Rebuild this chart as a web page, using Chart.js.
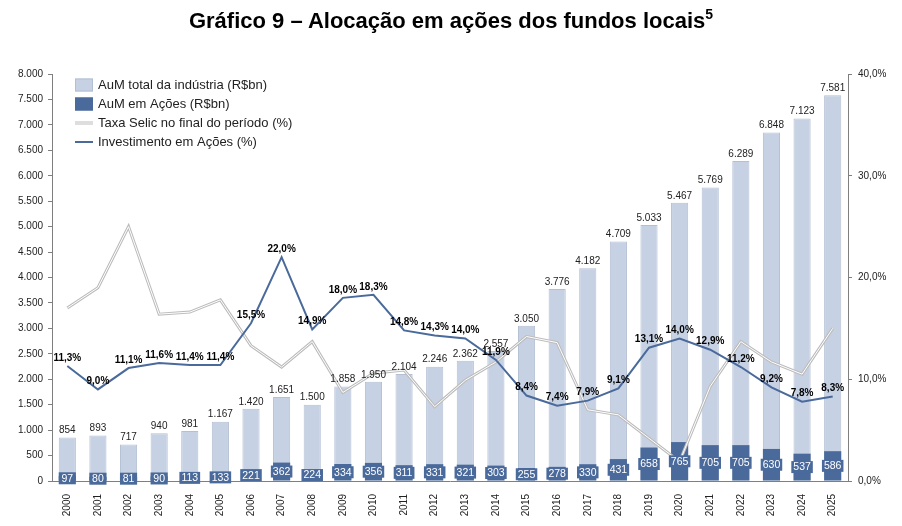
<!DOCTYPE html>
<html>
<head>
<meta charset="utf-8">
<script src="https://cdn.jsdelivr.net/npm/chart.js@4.4.1/dist/chart.umd.min.js"></script>
<style>
  html, body { margin: 0; padding: 0; background: #fff; }
  #wrap { position: relative; width: 902px; height: 526px; }
  #title { position: absolute; left: 0; top: 8px; width: 902px; text-align: center;
    font: bold 22px "Liberation Sans", Arial, sans-serif; line-height: 26px; color: #000; }
  #title sup { font-size: 14px; line-height: 0; vertical-align: 9px; }
  canvas { position: absolute; left: 0; top: 0; }
</style>
</head>
<body>
<div id="wrap">
  <canvas id="chart" width="902" height="526"></canvas>
  <div id="title">Gráfico 9 – Alocação em ações dos fundos locais<sup>5</sup></div>
</div>
<script>
// data
const years = ['2000','2001','2002','2003','2004','2005','2006','2007','2008','2009','2010','2011','2012',
  '2013','2014','2015','2016','2017','2018','2019','2020','2021','2022','2023','2024','2025'];
const aumTotal = [854, 893, 717, 940, 981, 1167, 1420, 1651, 1500, 1858, 1950, 2104, 2246,
  2362, 2557, 3050, 3776, 4182, 4709, 5033, 5467, 5769, 6289, 6848, 7123, 7581];
const aumAcoes = [97, 80, 81, 90, 113, 133, 221, 362, 224, 334, 356, 311, 331,
  321, 303, 255, 278, 330, 431, 658, 765, 705, 705, 630, 537, 586];
const selic = [17.0, 19.0, 25.0, 16.4, 16.6, 17.8, 13.3, 11.2, 13.7, 8.7, 10.6, 10.9, 7.3,
  9.9, 11.7, 14.2, 13.6, 7.0, 6.5, 4.2, 1.9, 9.3, 13.7, 11.7, 10.5, 15.0];
const investAcoes = [11.3, 9.0, 11.1, 11.6, 11.4, 11.4, 15.5, 22.0, 14.9, 18.0, 18.3, 14.8, 14.3,
  14.0, 11.9, 8.4, 7.4, 7.9, 9.1, 13.1, 14.0, 12.9, 11.2, 9.2, 7.8, 8.3];

const FONT = '"Liberation Sans", Arial, sans-serif';
const LIGHT = '#c6d1e3';
const DARK = '#4a6a9b';
const SELIC_GRAY = '#bcbcbc';

const fmtThousands = (n) => String(n).replace(/\B(?=(\d{3})+(?!\d))/g, '.');
const fmtPct = (v) => v.toFixed(1).replace('.', ',') + '%';

// white centre of the Selic line (double-line look)
const selicInner = {
  id: 'selicInner',
  afterDatasetDraw(chart, args) {
    if (args.index !== 2) return;
    const pts = args.meta.data;
    const ctx = chart.ctx;
    ctx.save();
    ctx.strokeStyle = '#ffffff';
    ctx.lineWidth = 1;
    ctx.beginPath();
    pts.forEach((p, i) => i ? ctx.lineTo(p.x, p.y) : ctx.moveTo(p.x, p.y));
    ctx.stroke();
    ctx.restore();
  }
};

const valueLabels = {
  id: 'valueLabels',
  afterDatasetsDraw(chart) {
    const ctx = chart.ctx;
    ctx.save();
    ctx.textAlign = 'center';

    // totals above bars
    ctx.font = '10px ' + FONT;
    ctx.fillStyle = '#222';
    ctx.textBaseline = 'bottom';
    chart.getDatasetMeta(0).data.forEach((el, i) => {
      ctx.fillText(fmtThousands(aumTotal[i]), el.x, el.y - 2);
    });

    // equity AuM inside bars
    ctx.font = '10.5px ' + FONT;
    ctx.textBaseline = 'middle';
    chart.getDatasetMeta(1).data.forEach((el, i) => {
      const txt = String(aumAcoes[i]);
      const cy = (el.y + el.base) / 2;
      const w = Math.max(el.width, ctx.measureText(txt).width + 4);
      ctx.fillStyle = DARK;
      ctx.fillRect(el.x - w / 2, cy - 6, w, 12);
      ctx.fillStyle = '#fff';
      ctx.fillText(txt, el.x, cy + 0.5);
    });

    // equity share labels
    ctx.font = 'bold 10px ' + FONT;
    ctx.fillStyle = '#000';
    ctx.textBaseline = 'bottom';
    chart.getDatasetMeta(3).data.forEach((el, i) => {
      ctx.fillText(fmtPct(investAcoes[i]), el.x, el.y - 3);
    });
    ctx.restore();
  }
};

// legend drawn inside the plot, one item per row
const innerLegend = {
  id: 'innerLegend',
  afterDraw(chart) {
    const ctx = chart.ctx;
    const x0 = 75, y0 = 85, step = 19;
    const items = [
      { type: 'box', color: LIGHT, border: '#b3bfd3', text: 'AuM total da indústria (R$bn)' },
      { type: 'box', color: DARK, border: DARK, text: 'AuM em Ações (R$bn)' },
      { type: 'selic', text: 'Taxa Selic no final do período (%)' },
      { type: 'line', color: DARK, text: 'Investimento em Ações (%)' }
    ];
    ctx.save();
    ctx.font = '13px ' + FONT;
    ctx.textBaseline = 'middle';
    ctx.textAlign = 'left';
    items.forEach((it, i) => {
      const y = y0 + i * step;
      if (it.type === 'box') {
        ctx.fillStyle = it.color;
        ctx.fillRect(x0, y - 6.5, 18, 13);
        ctx.strokeStyle = it.border;
        ctx.lineWidth = 1;
        ctx.strokeRect(x0 + 0.5, y - 6, 17, 12);
      } else if (it.type === 'selic') {
        ctx.strokeStyle = SELIC_GRAY;
        ctx.lineWidth = 3;
        ctx.beginPath(); ctx.moveTo(x0, y); ctx.lineTo(x0 + 18, y); ctx.stroke();
        ctx.strokeStyle = '#fff';
        ctx.lineWidth = 1;
        ctx.beginPath(); ctx.moveTo(x0, y); ctx.lineTo(x0 + 18, y); ctx.stroke();
      } else {
        ctx.strokeStyle = it.color;
        ctx.lineWidth = 2;
        ctx.beginPath(); ctx.moveTo(x0, y); ctx.lineTo(x0 + 18, y); ctx.stroke();
      }
      ctx.fillStyle = '#222';
      ctx.fillText(it.text, x0 + 23, y + 0.5);
    });
    ctx.restore();
  }
};

const axisColor = '#7f7f7f';
const tickFont = { family: FONT, size: 10 };

new Chart(document.getElementById('chart').getContext('2d'), {
  type: 'bar',
  data: {
    labels: years,
    datasets: [
      {
        label: 'AuM total da indústria (R$bn)',
        data: aumTotal,
        backgroundColor: LIGHT,
        borderColor: '#b3bfd3',
        borderWidth: 1,
        grouped: false,
        categoryPercentage: 1,
        barPercentage: 0.56,
        yAxisID: 'y',
        order: 3
      },
      {
        label: 'AuM em Ações (R$bn)',
        data: aumAcoes,
        backgroundColor: DARK,
        borderWidth: 0,
        grouped: false,
        categoryPercentage: 1,
        barPercentage: 0.56,
        yAxisID: 'y',
        order: 2
      },
      {
        type: 'line',
        label: 'Taxa Selic no final do período (%)',
        data: selic,
        borderColor: SELIC_GRAY,
        borderWidth: 3,
        pointRadius: 0,
        tension: 0,
        fill: false,
        yAxisID: 'y1',
        order: 1
      },
      {
        type: 'line',
        label: 'Investimento em Ações (%)',
        data: investAcoes,
        borderColor: DARK,
        borderWidth: 2,
        pointRadius: 0,
        tension: 0,
        fill: false,
        yAxisID: 'y1',
        order: 0
      }
    ]
  },
  options: {
    responsive: false,
    animation: false,
    layout: { padding: { top: 74, left: 0, right: 0, bottom: 0 } },
    plugins: {
      legend: { display: false },
      title: { display: false },
      tooltip: { enabled: false }
    },
    scales: {
      x: {
        grid: { display: false },
        border: { color: axisColor, width: 1 },
        ticks: { font: tickFont, color: '#222', minRotation: 90, maxRotation: 90, autoSkip: false, padding: 5 },
        afterFit: (s) => { s.height = 45; }
      },
      y: {
        position: 'left',
        min: 0, max: 8000,
        grid: { drawOnChartArea: false, tickLength: 4, color: axisColor },
        border: { color: axisColor, width: 1 },
        ticks: { stepSize: 500, font: tickFont, color: '#222', padding: 5, callback: (v) => fmtThousands(v) },
        afterFit: (s) => { s.width = 52; }
      },
      y1: {
        position: 'right',
        min: 0, max: 40,
        grid: { drawOnChartArea: false, tickLength: 4, color: axisColor },
        border: { color: axisColor, width: 1 },
        ticks: { stepSize: 10, font: tickFont, color: '#222', padding: 6, callback: (v) => fmtPct(v) },
        afterFit: (s) => { s.width = 54; }
      }
    }
  },
  plugins: [selicInner, valueLabels, innerLegend]
});
</script>
</body>
</html>
